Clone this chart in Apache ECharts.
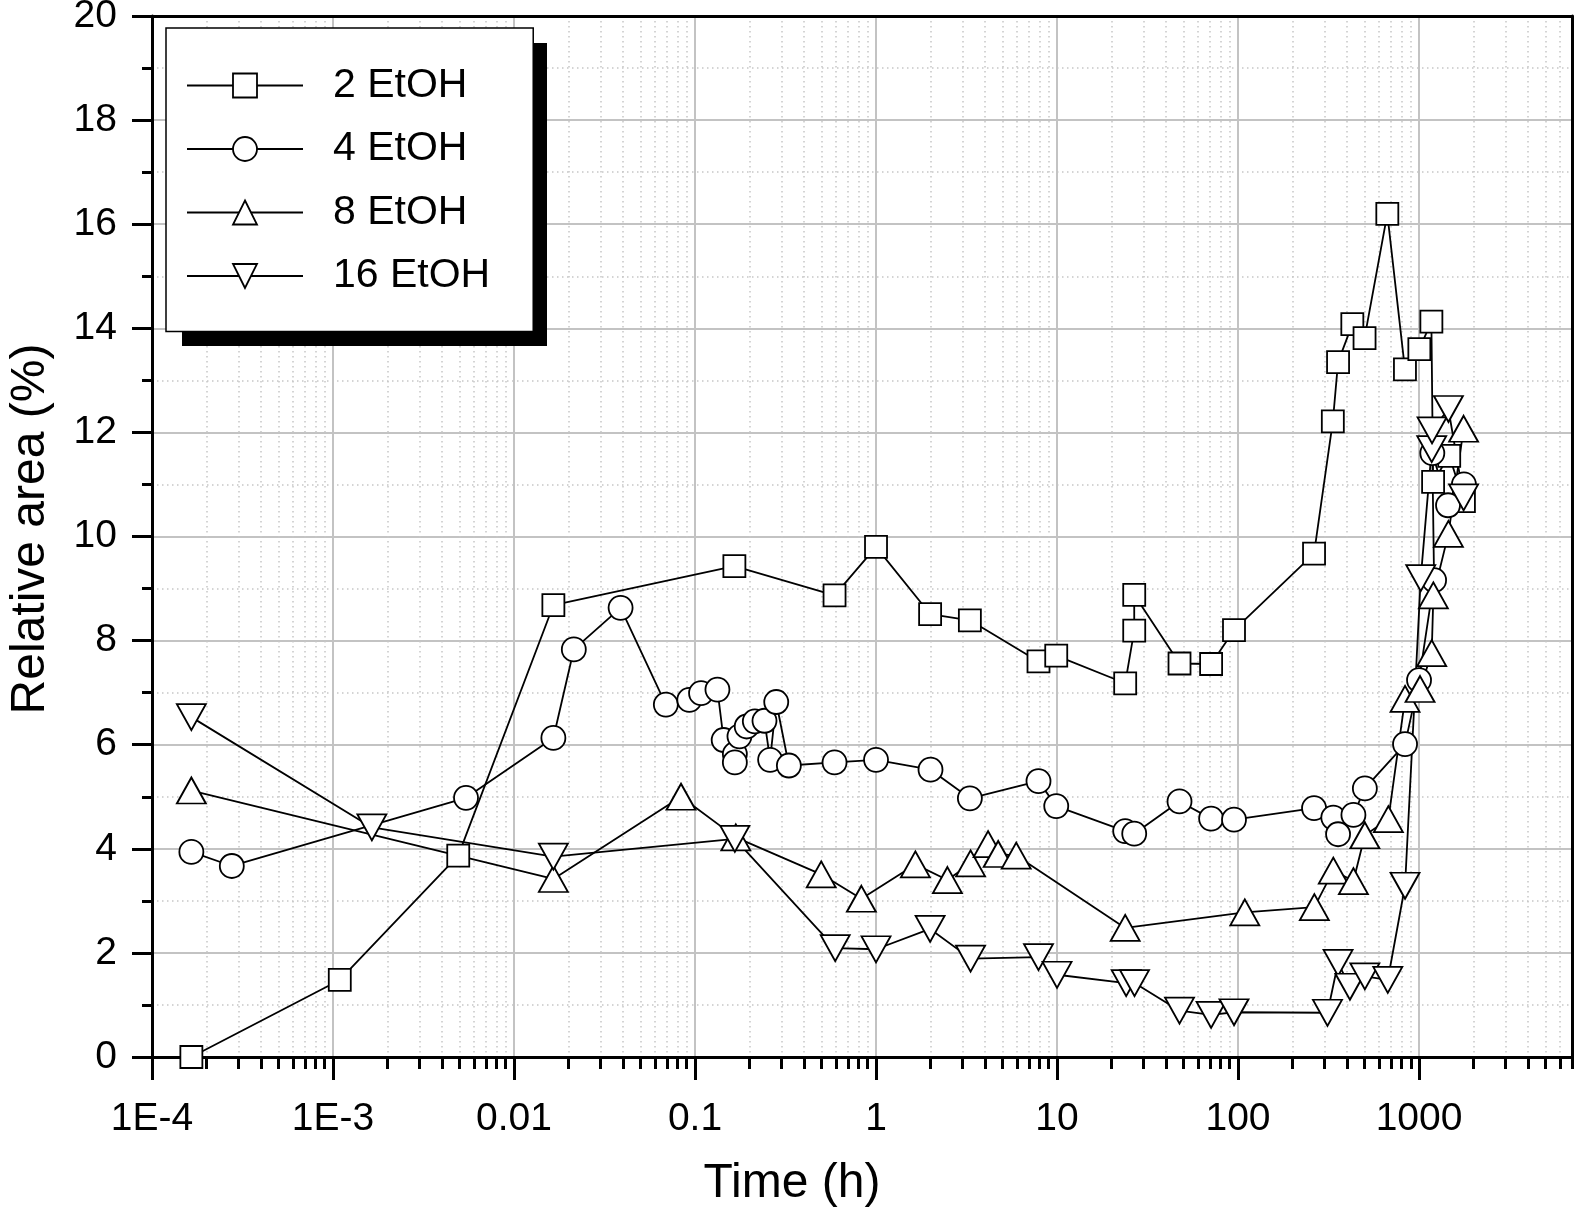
<!DOCTYPE html>
<html>
<head>
<meta charset="utf-8">
<script src="https://cdn.jsdelivr.net/npm/echarts@6/dist/echarts.min.js"></script>
<style>
html,body{margin:0;padding:0;background:#fff;}
#chart{width:1576px;height:1209px;}
</style>
</head>
<body>
<div id="chart"></div>
<script>
// ---- Data (time in h, relative area in %) ----
const seriesNames = ['2 EtOH', '4 EtOH', '8 EtOH', '16 EtOH'];

const etoh2 = [
  [1.65e-4, 0.0], [1.09e-3, 1.48], [4.92e-3, 3.87], [0.0165, 8.68], [0.165, 9.43],
  [0.59, 8.87], [1.0, 9.8], [1.99, 8.51], [3.3, 8.39], [7.9, 7.6], [9.9, 7.71],
  [23.8, 7.18], [26.7, 8.19], [26.7, 8.88], [47.5, 7.56], [71, 7.55], [95, 8.2],
  [263, 9.67], [334, 12.21], [357, 13.35], [428, 14.08], [500, 13.81], [668, 16.2],
  [836, 13.21], [1004, 13.6], [1170, 14.13], [1196, 11.05], [1468, 11.55], [1770, 10.68]
];

const etoh4 = [
  [1.65e-4, 3.94], [2.76e-4, 3.67], [5.43e-3, 4.98], [0.0165, 6.13], [0.0214, 7.83],
  [0.0388, 8.63], [0.069, 6.77], [0.093, 6.86], [0.108, 6.99], [0.133, 7.06],
  [0.144, 6.09], [0.166, 5.82], [0.166, 5.66], [0.176, 6.16], [0.193, 6.35],
  [0.214, 6.45], [0.242, 6.46], [0.26, 5.71], [0.281, 6.82], [0.33, 5.6],
  [0.59, 5.66], [1.0, 5.71], [2.0, 5.52], [3.3, 4.97], [7.9, 5.3], [9.9, 4.82],
  [23.8, 4.34], [26.7, 4.29], [47.5, 4.91], [71, 4.58], [95, 4.56], [263, 4.78],
  [336, 4.6], [357, 4.28], [434, 4.65], [502, 5.16], [837, 6.01], [1000, 7.24],
  [1211, 9.16], [1184, 11.6], [1446, 10.6], [1770, 11.0]
];

const etoh8 = [
  [1.65e-4, 5.12], [0.0165, 3.42], [0.0837, 5.0], [0.168, 4.22], [0.498, 3.51],
  [0.83, 3.04], [1.65, 3.7], [2.48, 3.4], [3.33, 3.72], [4.16, 4.09], [4.73, 3.9],
  [5.95, 3.87], [23.8, 2.48], [109, 2.78], [264, 2.88], [336, 3.58], [434, 3.38],
  [502, 4.26], [677, 4.57], [837, 6.88], [1013, 7.07], [1175, 7.76], [1200, 8.87],
  [1453, 10.05], [1763, 12.07]
];

const etoh16 = [
  [1.65e-4, 6.53], [1.64e-3, 4.41], [0.0165, 3.85], [0.166, 4.19], [0.595, 2.09],
  [1.0, 2.07], [1.99, 2.46], [3.33, 1.89], [7.9, 1.92], [10, 1.58], [24.1, 1.42],
  [26.8, 1.42], [47.5, 0.89], [71, 0.81], [95, 0.86], [312, 0.85], [357, 1.81],
  [415, 1.35], [502, 1.55], [672, 1.48], [837, 3.29], [1022, 9.2], [1175, 11.68],
  [1180, 12.04], [1453, 12.45], [1763, 10.75]
];

const xMajorTicks = [1e-4, 1e-3, 0.01, 0.1, 1, 10, 100, 1000];
const xTickLabels = ['1E-4', '1E-3', '0.01', '0.1', '1', '10', '100', '1000'];
const xMinorMultipliers = [2, 3, 4, 5, 6, 7, 8, 9];
const xMinorTicks = [];
xMajorTicks.forEach(d => xMinorMultipliers.forEach(m => {
  const v = +(d * m).toPrecision(6);
  if (v <= 7000) xMinorTicks.push(v);
}));

const FONT = "'Liberation Sans', Arial, Helvetica, sans-serif";
const X_MIN = 1e-4, X_MAX = 7000;

const chart = echarts.init(document.getElementById('chart'), null, {renderer: 'canvas'});

const markerStyle = {color: '#fff', borderColor: '#000', borderWidth: 1.8};
const lineStyle = {color: '#000', width: 1.8};

function mkSeries(name, data, symbol, size, rotate) {
  return {
    name: name, type: 'line', data: data,
    xAxisIndex: 0, yAxisIndex: 0,
    symbol: symbol, symbolSize: size, symbolRotate: rotate || 0,
    showAllSymbol: true,
    lineStyle: lineStyle, itemStyle: markerStyle,
    emphasis: {disabled: true}, animation: false, z: 3
  };
}

const option = {
  animation: false,
  backgroundColor: '#fff',
  textStyle: {fontFamily: FONT},
  grid: {left: 152, right: 4, top: 16, bottom: 152, containLabel: false, outerBoundsMode: 'none'},
  graphic: [
    {
      type: 'rect', z: 9, silent: true,
      shape: {x: 182, y: 43, width: 365, height: 303},
      style: {fill: '#000'}
    }
  ],
  legend: {
    show: true, orient: 'vertical', left: 166, top: 28,
    data: seriesNames,
    itemWidth: 116, itemHeight: 30, itemGap: 22.5,
    padding: [37, 43, 35, 20],
    backgroundColor: '#fff', borderColor: '#000', borderWidth: 1.5,
    selectedMode: false,
    itemStyle: {borderWidth: 1.8},
    textStyle: {fontFamily: FONT, fontSize: 41, color: '#000', lineHeight: 41, padding: [0, 0, 0, 25]},
    z: 10
  },
  xAxis: [
    {
      type: 'log', logBase: 10, min: X_MIN, max: X_MAX, position: 'bottom',
      name: 'Time (h)', nameLocation: 'middle', nameGap: 103,
      nameTextStyle: {fontFamily: FONT, fontSize: 48, color: '#000', padding: [0, 140, 0, 0]},
      axisLine: {show: true, onZero: false, lineStyle: {color: '#000', width: 3}},
      axisTick: {show: true, inside: false, length: 23, customValues: xMajorTicks, lineStyle: {color: '#000', width: 3}},
      axisLabel: {
        show: true, customValues: xMajorTicks, margin: 43,
        fontFamily: FONT, fontSize: 39, color: '#000',
        formatter: v => xTickLabels[Math.round(Math.log10(v)) + 4]
      },
      splitLine: {show: true, lineStyle: {color: '#c3c3c3', width: 2}},
      minorTick: {show: false}, minorSplitLine: {show: false}
    },
    {
      type: 'log', logBase: 10, min: X_MIN, max: X_MAX, position: 'bottom',
      axisLine: {show: false},
      axisTick: {show: true, inside: false, length: 12, customValues: xMinorTicks, lineStyle: {color: '#000', width: 3}},
      axisLabel: {show: false},
      splitLine: {show: true, lineStyle: {color: '#c6c6c6', width: 1.5, type: [1.5, 3.5]}}
    },
    {
      type: 'log', logBase: 10, min: X_MIN, max: X_MAX, position: 'top', z: 6,
      axisLine: {show: true, onZero: false, lineStyle: {color: '#000', width: 3}},
      axisTick: {show: false}, axisLabel: {show: false}, splitLine: {show: false}
    }
  ],
  yAxis: [
    {
      type: 'value', min: 0, max: 20, interval: 2, position: 'left',
      name: 'Relative area (%)', nameLocation: 'middle', nameGap: 97,
      nameTextStyle: {fontFamily: FONT, fontSize: 48, color: '#000', padding: [0, 0, 0, 15]},
      axisLine: {show: true, onZero: false, lineStyle: {color: '#000', width: 3}},
      axisTick: {show: true, inside: false, length: 20, lineStyle: {color: '#000', width: 3}},
      minorTick: {show: true, splitNumber: 2, length: 10, lineStyle: {color: '#000', width: 3}},
      axisLabel: {margin: 35, fontFamily: FONT, fontSize: 39, color: '#000', padding: [12, 0, 0, 0]},
      splitLine: {show: true, lineStyle: {color: '#c3c3c3', width: 2}},
      minorSplitLine: {show: true, lineStyle: {color: '#c6c6c6', width: 1.5, type: [1.5, 3.5]}}
    },
    {
      type: 'value', min: 0, max: 20, position: 'right', z: 6,
      axisLine: {show: true, onZero: false, lineStyle: {color: '#000', width: 3}},
      axisTick: {show: false}, axisLabel: {show: false}, splitLine: {show: false}
    }
  ],
  series: [
    mkSeries(seriesNames[0], etoh2, 'rect', 22),
    mkSeries(seriesNames[1], etoh4, 'circle', 24),
    mkSeries(seriesNames[2], etoh8, 'triangle', [29, 26]),
    mkSeries(seriesNames[3], etoh16, 'triangle', [29, 26], 180)
  ]
};

chart.setOption(option);
</script>
</body>
</html>
